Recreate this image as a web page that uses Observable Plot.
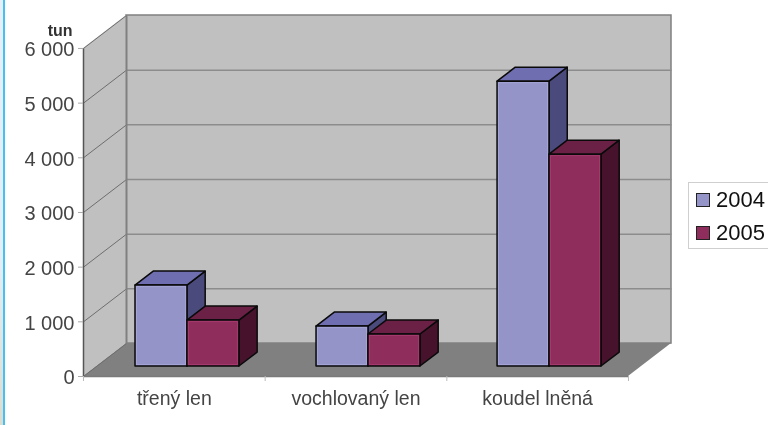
<!DOCTYPE html>
<html><head><meta charset="utf-8">
<script src="https://cdn.jsdelivr.net/npm/d3@7"></script>
<script src="https://cdn.jsdelivr.net/npm/@observablehq/plot@0.6"></script>
<style>
html,body{margin:0;padding:0;background:#fff;width:768px;height:425px;overflow:hidden;font-family:"Liberation Sans",Arial,sans-serif}
#wrap{position:relative;width:768px;height:425px}
#edge{position:absolute;left:0;top:0;width:3px;height:425px;background:linear-gradient(180deg,#e6eef8,#e4eef6 60%,#dcdccf);border-right:2px solid #45c0f5}
#chart,#legend{filter:blur(0.35px)}
#legend{position:absolute;left:688px;top:182px;width:90px;height:65px;border:1px solid #cfcfcf;background:#fff;box-sizing:content-box}
.li{position:absolute;left:7px;font-size:22px;line-height:24px;color:#111;padding-left:20px;height:24px}
.li i{position:absolute;left:0;top:5px;width:12px;height:12px;border:1px solid #222}
</style></head><body><div id="wrap"><div id="edge"></div><div id="chart"></div>
<div id="legend"></div></div>
<script>
const categories = ["třený len", "vochlovaný len", "koudel lněná"];
const years = ["2004", "2005"];
const values2004 = [1480, 730, 5210];
const values2005 = [840, 585, 3875];
const yTicks = [0, 1000, 2000, 3000, 4000, 5000, 6000];

const frontColors = ["#9494c8", "#8f2d5c"];
const edgeColors = ["#a4a4d6", "#a53a6e"];
const topColors = ["#6e6eb0", "#6b2045"];
const sideColors = ["#4a4a7c", "#47122c"];

// oblique projection: depth 1 moves a point this far in x (categories) and y (tons)
const depthX = 0.2367, depthY = 603;
const zFront = 0.303, zBack = 0.727;
const groupStart = 0.2145, barWidth = 0.286, barPitch = 0.9965;
const X = (u, z) => u + z * depthX;
const Y = (v, z) => v + z * depthY;

const bars = years.map((year, s) =>
  (s === 0 ? values2004 : values2005).map((value, c) => ({
    key: c, value,
    u1: c * barPitch + groupStart + s * barWidth,
    u2: c * barPitch + groupStart + (s + 1) * barWidth
  })));

const outline = {stroke: "#0a0a0a", strokeWidth: 1.5, strokeLinejoin: "round"};
const barMarks = bars.flatMap((rows, s) => {
  const side = rows.flatMap(b => [
    {k: b.key, x: X(b.u2, zFront), y1: Y(0, zFront), y2: Y(b.value, zFront)},
    {k: b.key, x: X(b.u2, zBack), y1: Y(0, zBack), y2: Y(b.value, zBack)}]);
  const top = rows.flatMap(b => [
    {k: b.key, y: Y(b.value, zFront), x1: X(b.u1, zFront), x2: X(b.u2, zFront)},
    {k: b.key, y: Y(b.value, zBack), x1: X(b.u1, zBack), x2: X(b.u2, zBack)}]);
  const front = {x1: b => X(b.u1, zFront), x2: b => X(b.u2, zFront), y1: () => Y(0, zFront), y2: b => Y(b.value, zFront)};
  return [
    Plot.area(side, {x1: "x", y1: "y1", y2: "y2", z: "k", fill: sideColors[s], ...outline}),
    Plot.area(top, {y1: "y", x1: "x1", x2: "x2", z: "k", fill: topColors[s], ...outline}),
    Plot.rect(rows, {...front, fill: frontColors[s], ...outline}),
    Plot.rect(rows, {...front, inset: 1.5, fill: "none", stroke: edgeColors[s], strokeWidth: 1})
  ];
});

const yMax = yTicks[yTicks.length - 1];
const nCat = categories.length;
const wall = [{x: 0, y1: 0, y2: yMax}, {x: depthX, y1: depthY, y2: yMax + depthY}];
const floor = [{y: 0, x1: 0, x2: nCat}, {y: depthY, x1: depthX, x2: nCat + depthX}];
const fmt = d => String(d).replace(/\B(?=(\d{3})+$)/g, " ");

const chart = Plot.plot({
  width: 768, height: 425,
  marginLeft: 83, marginRight: 97, marginTop: 15, marginBottom: 49,
  style: {fontFamily: '"Liberation Sans",Arial,sans-serif', background: "transparent", overflow: "visible"},
  x: {domain: [0, nCat + depthX], axis: null},
  y: {domain: [0, yMax + depthY], axis: null},
  marks: [
    Plot.rect([0], {x1: () => depthX, x2: () => nCat + depthX, y1: () => depthY, y2: () => yMax + depthY, fill: "#c0c0c0", stroke: "#808080", strokeWidth: 1.5}),
    Plot.area(wall, {x1: "x", y1: "y1", y2: "y2", fill: "#c0c0c0"}),
    Plot.area(floor, {y1: "y", x1: "x1", x2: "x2", fill: "#808080"}),
    Plot.link(yTicks.slice(1, -1), {x1: () => depthX, x2: () => nCat + depthX, y1: d => d + depthY, y2: d => d + depthY, stroke: "#8c8c8c", strokeWidth: 1.5}),
    Plot.link(yTicks, {x1: () => 0, x2: () => depthX, y1: d => d, y2: d => d + depthY, stroke: "#6e6e6e", strokeWidth: 1}),
    Plot.link([0], {x1: () => 0, x2: () => 0, y1: () => 0, y2: () => yMax, stroke: "#555", strokeWidth: 1.5}),
    Plot.link([0], {x1: () => 0, x2: () => nCat, y1: () => 0, y2: () => 0, stroke: "#7a7a7a", strokeWidth: 1.5}),
    Plot.link([0], {x1: () => depthX, x2: () => depthX, y1: () => depthY, y2: () => yMax + depthY, stroke: "#808080", strokeWidth: 2}),
    Plot.axisY({ticks: yTicks, tickFormat: () => "", tickSize: 5, stroke: "#aaa", label: null}),
    Plot.axisY({ticks: yTicks, tickFormat: fmt, tickSize: 0, tickPadding: 9, dy: 1.5, fill: "#444", fontSize: 20, label: null}),
    Plot.axisX({ticks: [0, 1, 2, 3], tickFormat: () => "", tickSize: 5, stroke: "#bbb", label: null}),
    Plot.axisX({ticks: categories.map((d, i) => i + 0.5), tickFormat: d => categories[Math.floor(d)], tickSize: 0, tickPadding: 15, fill: "#444", fontSize: 19.5, label: null}),
    Plot.text(["tun"], {x: () => 0, y: () => yMax + 320, text: d => d, textAnchor: "end", dx: -11, fontSize: 16, fontWeight: "bold", fill: "#333"}),
    ...barMarks
  ]
});
document.getElementById("chart").append(chart);

const legend = document.getElementById("legend");
years.forEach((y, s) => {
  const row = document.createElement("div");
  row.className = "li";
  row.style.top = (5 + s * 33) + "px";
  row.innerHTML = `<i style="background:${frontColors[s]}"></i>${y}`;
  legend.append(row);
});
</script></body></html>
